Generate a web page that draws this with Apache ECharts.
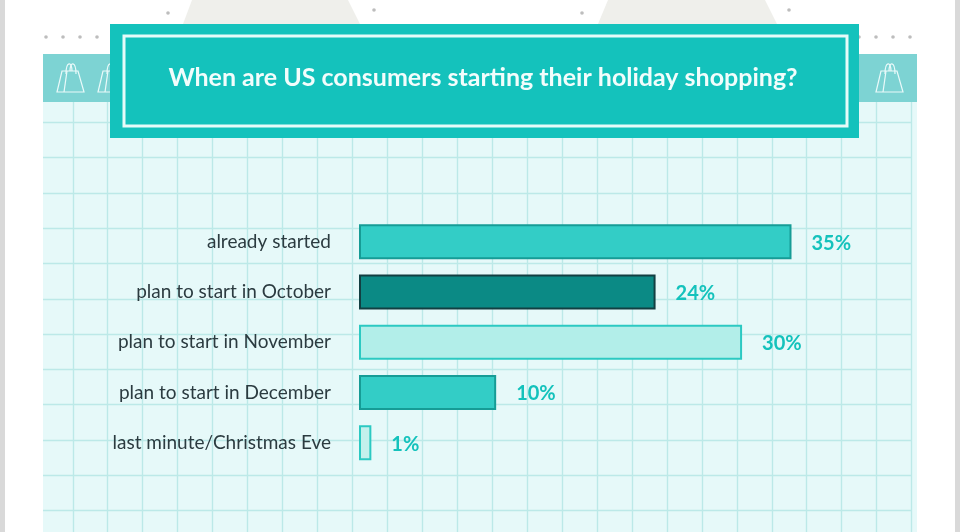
<!DOCTYPE html>
<html><head><meta charset="utf-8">
<style>html,body{margin:0;padding:0;background:#fff}#c{width:960px;height:532px}</style>
<script src="https://cdn.jsdelivr.net/npm/echarts@6/dist/echarts.min.js"></script>
</head><body><div id="c"></div>
<script>
const titleText = 'When are US consumers starting their holiday shopping?';
const categories = ['already started','plan to start in October','plan to start in November','plan to start in December','last minute/Christmas Eve'];
// Percentages as printed on the chart.
const printedLabels = ['35%','24%','30%','10%','1%'];
// Bar lengths as drawn in the picture: the source's bars for 30% and 10% are drawn slightly longer than their printed figures.
const drawnLengths = [35, 24, 31, 11.1, 1];
const fills = ['#33cdc6','#0b8a85','#b2eee9','#33cdc6','#c4f0ec'];
const borders = ['#169c96','#123f42','#2cc9c2','#169c96','#2cc9c2'];

const g = [];
const rect=(x,y,w,h,fill,extra)=>g.push(Object.assign({type:'rect',shape:{x,y,width:w,height:h},style:{fill},silent:true},extra||{}));
rect(0,0,5,532,'#d9d9d9'); rect(955,0,5,532,'#d9d9d9');
g.push({type:'polygon',shape:{points:[[183,24],[192,0],[348,0],[360,24]]},style:{fill:'#efefeb'},silent:true});
g.push({type:'polygon',shape:{points:[[598,24],[608,0],[765,0],[777,24]]},style:{fill:'#efefeb'},silent:true});
[46,63,80,97,859,876,893,910].forEach(x=>g.push({type:'circle',shape:{cx:x,cy:37,r:1.8},style:{fill:'#bdbdbd'},silent:true}));
[[168,13],[374,10],[582,13],[789,10]].forEach(p=>g.push({type:'circle',shape:{cx:p[0],cy:p[1],r:1.8},style:{fill:'#bdbdbd'},silent:true}));
rect(43,102,874,430,'#e6f9f9');
for(let k=0;k<25;k++){const x=Math.round(72.5+34.95*k)+.5;g.push({type:'line',shape:{x1:x,y1:102,x2:x,y2:532},style:{stroke:'#bce9e8',lineWidth:1.4},silent:true});}
for(let k=0;k<12;k++){const y=Math.round(122+35.3*k)+.5;g.push({type:'line',shape:{x1:43,y1:y,x2:912,y2:y},style:{stroke:'#bce9e8',lineWidth:1.4},silent:true});}
rect(43,54,874,48,'#7dd3d3');
const bagStyle={fill:'none',stroke:'#eafafa',lineWidth:1.2};
function addBag(x,y){
  g.push({type:'polygon',shape:{points:[[x,y+28],[x+5,y+7],[x+21,y+7],[x+27,y+28]]},style:bagStyle,silent:true});
  g.push({type:'line',shape:{x1:x+7,y1:y+28,x2:x+10,y2:y+7},style:bagStyle,silent:true});
  g.push({type:'bezierCurve',shape:{x1:x+9,y1:y+10,cpx1:x+9,cpy1:y-3,cpx2:x+15,cpy2:y-3,x2:x+15,y2:y+7},style:bagStyle,silent:true});
  g.push({type:'bezierCurve',shape:{x1:x+13,y1:y+7,cpx1:x+13,cpy1:y-3,cpx2:x+19,cpy2:y-3,x2:x+19,y2:y+10},style:bagStyle,silent:true});
}
addBag(57,64); addBag(98,64); addBag(876,64);
rect(110,24,749,114,'#14c2bc');
rect(124,36,723,90,'#14c2bc',{style:{fill:'#14c2bc',stroke:'#e6fbf9',lineWidth:3}});

const chart = echarts.init(document.getElementById('c'),null,{renderer:'canvas'});
chart.setOption({
  animation:false,
  backgroundColor:'#ffffff',
  graphic:{elements:g},
  title:{text:titleText,left:478,top:60,textAlign:'center',textStyle:{fontFamily:'Lato',fontWeight:700,fontSize:25,color:'#f2fdfc'}},
  grid:{left:359,width:432.5,top:216.5,height:251.25,containLabel:false},
  xAxis:{type:'value',min:0,max:35,show:false},
  yAxis:{type:'category',inverse:true,data:categories,axisLine:{show:false},axisTick:{show:false},splitLine:{show:false},
    axisLabel:{margin:28,fontFamily:'Lato',fontSize:19,color:'#2b3b40',align:'right',padding:[2,0,0,0]}},
  series:[{type:'bar',barWidth:35,
    data:drawnLengths.map((v,i)=>({value:v,itemStyle:{color:fills[i],borderColor:borders[i],borderWidth:2}})),
    label:{show:true,position:'right',distance:20,offset:[0,1.5],fontFamily:'Lato',fontWeight:700,fontSize:20,color:'#14c2bc',
      formatter:p=>printedLabels[p.dataIndex]}}]
});
</script></body></html>
